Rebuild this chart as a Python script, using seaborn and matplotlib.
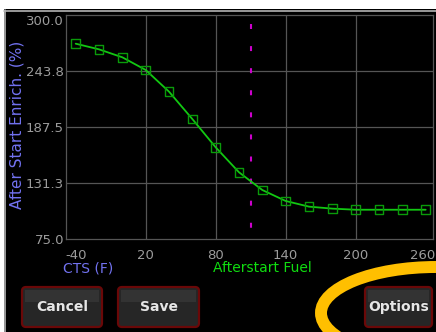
import matplotlib
matplotlib.use("Agg")
import matplotlib.pyplot as plt
from matplotlib.patches import FancyBboxPatch, Ellipse, Rectangle
from matplotlib.transforms import ScaledTranslation
import seaborn as sns
import pandas as pd

# Afterstart enrichment table: coolant temperature (F) vs enrichment (%)
cts_f = [-40, -20, 0, 20, 40, 60, 80, 100, 120, 140, 160, 180, 200, 220, 240, 260]
enrich_pct = [271.2, 265.5, 257.5, 244.8, 223.0, 195.5, 167.1, 142.0, 124.2,
              113.2, 107.5, 105.5, 104.4, 104.4, 104.4, 104.4]
current_cts = 110
x_ticks = [-40, 20, 80, 140, 200, 260]
x_grid = [20, 80, 140, 200]
y_ticks = [75.0, 131.3, 187.5, 243.8, 300.0]
y_tick_labels = ["75.0", "131.3", "187.5", "243.8", "300.0"]
buttons = ["Cancel", "Save", "Options"]

sns.set_style("dark", {
    "axes.facecolor": "black",
    "figure.facecolor": "black",
    "grid.color": "#555555",
    "axes.edgecolor": "#555555",
})
plt.rcParams["font.family"] = ["DejaVu Sans"]

W, H = 436, 332
fig = plt.figure(figsize=(W / 100, H / 100), dpi=100)
fig.patch.set_facecolor("black")

# Pixel-space layer for the window chrome
bg = fig.add_axes([0, 0, 1, 1], zorder=0)
bg.set_xlim(0, W)
bg.set_ylim(H, 0)
bg.axis("off")
bg.add_patch(Rectangle((0, 0), W, 8.5, facecolor="white", edgecolor="none"))
bg.add_patch(Rectangle((0, 0), 3.5, H, facecolor="white", edgecolor="none"))
bg.plot([4, W], [10.5, 10.5], color="#b4b4b4", lw=1.2)
bg.plot([4.5, 4.5], [10, H], color="#b4b4b4", lw=1.2)

# Chart
df = pd.DataFrame({"CTS": cts_f, "Enrich": enrich_pct})
ax = fig.add_axes([66 / W, (H - 239) / H, 367 / W, 224 / H], zorder=1)
ax.set_facecolor("black")
ax.grid(False)
for gx in x_grid:
    ax.axvline(gx, color="#555555", lw=0.9, zorder=1)
for gy in y_ticks[1:-1]:
    ax.axhline(gy, color="#555555", lw=0.9, zorder=1)

sns.lineplot(data=df, x="CTS", y="Enrich", ax=ax, color="#12c812", lw=1.3, zorder=3)
sns.scatterplot(data=df, x="CTS", y="Enrich", ax=ax, marker="s", s=38,
                facecolors="none", edgecolor="#0a9a0a", linewidth=1.0, zorder=4)
ax.plot([current_cts, current_cts], [291, 86], color="#cc00cc", lw=1.5,
        linestyle=(0, (2.4, 8.2)), zorder=2)

ax.set_xlim(-48.3, 266.3)
ax.set_ylim(75, 300)
ax.set_xticks(x_ticks)
ax.set_xticklabels([str(v) for v in x_ticks])
ax.set_yticks(y_ticks)
ax.set_yticklabels(y_tick_labels)
for sp in ax.spines.values():
    sp.set_color("#555555")
    sp.set_linewidth(0.9)
ax.tick_params(axis="both", length=0, labelcolor="#9c9c9c", labelsize=9.5)
ax.tick_params(axis="x", pad=7)
ax.tick_params(axis="y", pad=1.5)
ax.get_yticklabels()[-1].set_va("top")
last = ax.get_xticklabels()[-1]
last.set_transform(last.get_transform() + ScaledTranslation(-3 / 100, 0, fig.dpi_scale_trans))
ax.set_xlabel("")
ax.set_ylabel("After Start Enrich. (%)", color="#7272f0", fontsize=11)
ax.yaxis.set_label_coords(-0.112, 0.51)

bg.text(88, 268, "CTS (F)", color="#7272f0", fontsize=10, ha="center", va="center")
bg.text(213, 268, "Afterstart Fuel", color="#10dd10", fontsize=10, ha="left", va="center")

# Highlight ring around the options button
bg.add_patch(Ellipse((436, 313), 230, 92, facecolor="none", edgecolor="#ffbf00", lw=8.6))

# Buttons
button_boxes = [(22, 102), (118, 199), (365, 432)]
for label, (x0, x1) in zip(buttons, button_boxes):
    bg.add_patch(FancyBboxPatch((x0 + 3, 287 + 3), x1 - x0 - 6, 40 - 6,
                                boxstyle="round,pad=3,rounding_size=4",
                                facecolor="#262626", edgecolor="#6a0808", lw=1.6))
    bg.add_patch(Rectangle((x0 + 3, 290), x1 - x0 - 6, 12, facecolor="#333333",
                           edgecolor="none"))
    bg.text((x0 + x1) / 2, 307, label, color="#e6e6e6", fontsize=10,
            fontweight="bold", ha="center", va="center")

fig.savefig("out.png", dpi=100, facecolor="black")
